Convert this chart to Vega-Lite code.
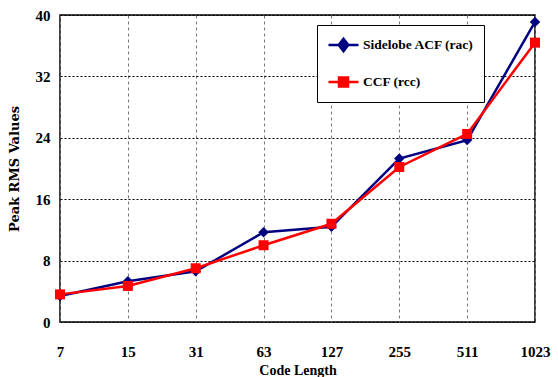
{
  "$schema": "https://vega.github.io/schema/vega-lite/v6.json",
  "width": 475,
  "height": 307,
  "autosize": {"type": "none"},
  "padding": {"left": 60, "top": 15, "right": 23, "bottom": 55},
  "background": "white",
  "config": {
    "view": {"stroke": "black", "strokeWidth": 1.5},
    "font": "Liberation Serif",
    "legend": {
      "orient": "none", "legendX": 257, "legendY": 10, "title": null,
      "strokeColor": "black", "fillColor": "white", "padding": 10, "rowPadding": 17,
      "symbolSize": 900, "clipHeight": 20, "symbolStrokeWidth": 2.5, "labelOffset": 3,
      "symbolFillColor": "#000080", "symbolStrokeColor": "#000080",
      "labelFont": "Liberation Serif", "labelFontSize": 13.5, "labelFontWeight": "bold", "labelColor": "black"
    }
  },
  "data": {
    "values": [
      {"code": 7, "series": "Sidelobe ACF (rac)", "value": 3.4},
      {"code": 15, "series": "Sidelobe ACF (rac)", "value": 5.3},
      {"code": 31, "series": "Sidelobe ACF (rac)", "value": 6.6},
      {"code": 63, "series": "Sidelobe ACF (rac)", "value": 11.7},
      {"code": 127, "series": "Sidelobe ACF (rac)", "value": 12.4},
      {"code": 255, "series": "Sidelobe ACF (rac)", "value": 21.3},
      {"code": 511, "series": "Sidelobe ACF (rac)", "value": 23.7},
      {"code": 1023, "series": "Sidelobe ACF (rac)", "value": 39.1},
      {"code": 7, "series": "CCF (rcc)", "value": 3.6},
      {"code": 15, "series": "CCF (rcc)", "value": 4.7},
      {"code": 31, "series": "CCF (rcc)", "value": 7.0},
      {"code": 63, "series": "CCF (rcc)", "value": 10.0},
      {"code": 127, "series": "CCF (rcc)", "value": 12.8},
      {"code": 255, "series": "CCF (rcc)", "value": 20.2},
      {"code": 511, "series": "CCF (rcc)", "value": 24.5},
      {"code": 1023, "series": "CCF (rcc)", "value": 36.4}
    ]
  },
  "encoding": {
    "x": {
      "field": "code",
      "type": "ordinal",
      "scale": {"type": "point", "padding": 0},
      "axis": {
        "title": "Code Length",
        "titleFont": "Liberation Serif",
        "titleFontSize": 14,
        "titleFontWeight": "bold",
        "titleColor": "black",
        "titlePadding": 4,
        "labelAngle": 0,
        "labelFont": "Liberation Serif",
        "labelFontSize": 15,
        "labelFontWeight": "bold",
        "labelColor": "black",
        "labelPadding": 22,
        "ticks": false,
        "domain": false,
        "grid": true,
        "gridColor": "#777777",
        "gridDash": [3, 3],
        "gridWidth": 1
      }
    },
    "y": {
      "field": "value",
      "type": "quantitative",
      "scale": {"domain": [0, 40], "nice": false},
      "axis": {
        "title": "Peak  RMS  Values",
        "titleFont": "DejaVu Serif",
        "titleFontSize": 13,
        "titleFontWeight": "bold",
        "titleColor": "black",
        "titlePadding": 14,
        "values": [0, 8, 16, 24, 32, 40],
        "labelFont": "Liberation Serif",
        "labelFontSize": 15,
        "labelFontWeight": "bold",
        "labelColor": "black",
        "labelPadding": 10,
        "ticks": false,
        "domain": false,
        "grid": true,
        "gridColor": "black",
        "gridDash": [2, 2],
        "gridWidth": 1
      }
    },
    "color": {
      "field": "series",
      "type": "nominal",
      "scale": {"domain": ["Sidelobe ACF (rac)", "CCF (rcc)"], "range": ["#000080", "#ff0000"]}
    }
  },
  "layer": [
    {
      "mark": {"type": "line", "strokeWidth": 2.5}
    },
    {
      "transform": [{"filter": {"field": "series", "equal": "Sidelobe ACF (rac)"}}],
      "mark": {"type": "point", "filled": true, "opacity": 1, "size": 110, "shape": "diamond"}
    },
    {
      "transform": [{"filter": {"field": "series", "equal": "CCF (rcc)"}}],
      "mark": {"type": "point", "filled": true, "opacity": 1, "size": 100, "shape": "square"}
    },
    {
      "transform": [{"filter": "false"}],
      "mark": {"type": "point", "filled": true, "opacity": 1},
      "encoding": {
        "shape": {
          "field": "series",
          "type": "nominal",
          "scale": {
            "domain": ["Sidelobe ACF (rac)", "CCF (rcc)"],
            "range": ["M-1,0H1M0,-0.42L0.32,0L0,0.42L-0.32,0Z", "M-1,0H1M-0.3,-0.3H0.3V0.3H-0.3Z"]
          }
        }
      }
    }
  ]
}
